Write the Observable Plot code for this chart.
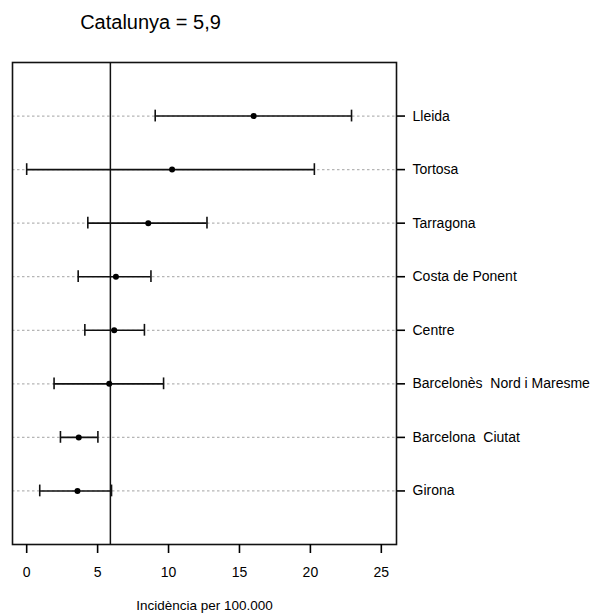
<!DOCTYPE html>
<html>
<head>
<meta charset="utf-8">
<script src="https://cdn.jsdelivr.net/npm/d3@7"></script>
<script src="https://cdn.jsdelivr.net/npm/@observablehq/plot@0.6"></script>
<style>
  html, body { margin: 0; padding: 0; background: #fff; }
  #chart svg { display: block; }
</style>
</head>
<body>
<div id="chart"></div>
<script>
const categories = ["Lleida", "Tortosa", "Tarragona", "Costa de Ponent", "Centre", "Barcelonès  Nord i Maresme", "Barcelona  Ciutat", "Girona"];
const incidence = [16.0, 10.25, 8.57, 6.29, 6.17, 5.82, 3.67, 3.58];
const lower = [9.06, 0.0, 4.31, 3.63, 4.1, 1.93, 2.38, 0.92];
const upper = [22.9, 20.28, 12.71, 8.76, 8.3, 9.65, 5.02, 5.98];
const catalunya = 5.9;
const xTicks = [0, 5, 10, 15, 20, 25];
const titleText = "Catalunya = 5,9";
const xLabel = "Incidència per 100.000";

const n = categories.length;
const data = categories.map((c, i) => ({
  name: c, pos: n - i, value: incidence[i], lo: lower[i], hi: upper[i]
}));

const font = "'Liberation Sans', Arial, sans-serif";

const chart = Plot.plot({
  width: 597,
  height: 614,
  marginTop: 62,
  marginBottom: 70,
  marginLeft: 12,
  marginRight: 201,
  style: { fontFamily: font, fontSize: "14px", color: "#000", background: "#fff" },
  x: { domain: [-1.0, 26.07], label: null },
  y: { domain: [0, 9], label: null },
  marks: [
    Plot.ruleY(data, { y: "pos", stroke: "#b5b5b5", strokeWidth: 1.3, strokeDasharray: "2.5,2.5" }),
    Plot.ruleX([catalunya], { stroke: "#111", strokeWidth: 1.5 }),
    Plot.ruleY(data, { y: "pos", x1: "lo", x2: "hi", stroke: "#111", strokeWidth: 1.6 }),
    Plot.ruleX(data, { x: "lo", y1: d => d.pos - 0.11, y2: d => d.pos + 0.11, stroke: "#111", strokeWidth: 1.6 }),
    Plot.ruleX(data, { x: "hi", y1: d => d.pos - 0.11, y2: d => d.pos + 0.11, stroke: "#111", strokeWidth: 1.6 }),
    Plot.dot(data, { x: "value", y: "pos", r: 3, fill: "#000", stroke: "none" }),
    Plot.frame({ stroke: "#111", strokeWidth: 1.6 }),
    Plot.axisX({ ticks: xTicks, tickSize: 9, tickPadding: 14, tickFormat: d => String(d), fontSize: 14, strokeWidth: 1.6, label: null }),
    Plot.axisY({ anchor: "right", ticks: data.map(d => d.pos), tickFormat: p => categories[n - p], tickSize: 8, tickPadding: 8, fontSize: 14, strokeWidth: 1.6, label: null }),
    Plot.text([titleText], { frameAnchor: "top-left", dx: 138, dy: -40, text: d => d, fontSize: 20, textAnchor: "middle", lineAnchor: "middle", fill: "#000" }),
    Plot.text([xLabel], { frameAnchor: "bottom", dy: 61, text: d => d, fontSize: 13.5, textAnchor: "middle", lineAnchor: "middle", fill: "#000" })
  ]
});
document.getElementById("chart").appendChild(chart);
</script>
</body>
</html>
